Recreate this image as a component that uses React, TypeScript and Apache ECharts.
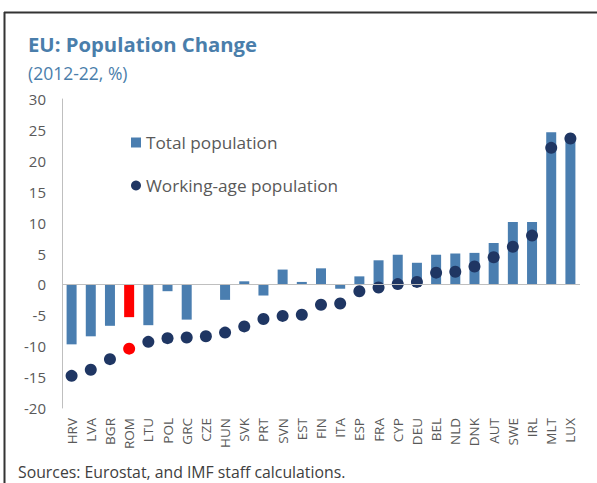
import React, { useEffect, useRef } from "react";
import * as echarts from "echarts";

const categories = ["HRV","LVA","BGR","ROM","LTU","POL","GRC","CZE","HUN","SVK","PRT","SVN","EST","FIN","ITA","ESP","FRA","CYP","DEU","BEL","NLD","DNK","AUT","SWE","IRL","MLT","LUX"];
const totalPopulation = [-9.7,-8.4,-6.7,-5.3,-6.6,-1.1,-5.7,-0.05,-2.5,0.5,-1.8,2.4,0.4,2.6,-0.7,1.3,3.9,4.8,3.5,4.8,5.0,5.1,6.7,10.1,10.1,24.6,23.2];
const workingAgePopulation = [-14.8,-13.8,-12.1,-10.4,-9.3,-8.7,-8.6,-8.4,-7.8,-6.8,-5.6,-5.1,-4.9,-3.3,-3.1,-1.1,-0.5,0.05,0.4,1.9,2.05,2.9,4.4,6.1,7.9,22.1,23.6];
const highlighted = "ROM";
const yTicks = { min: -20, max: 30, interval: 5 };

const FONT = "'Open Sans', 'Noto Sans', sans-serif";
const BAR = "#4a7eb0";
const DOT = "#1f3663";
const RED = "#ff0000";

export default function App() {
  const ref = useRef<HTMLDivElement>(null);
  useEffect(() => {
    if (!ref.current) return;
    const chart = echarts.init(ref.current, undefined, { renderer: "svg" });
    chart.setOption({
      animation: false,
      backgroundColor: "#ffffff",
      textStyle: { fontFamily: FONT },
      title: [
        {
          text: "EU: Population Change",
          left: 23,
          top: 29,
          textStyle: { fontFamily: FONT, fontSize: 20.3, fontWeight: "bold", color: "#4a7eab" },
        },
        {
          text: "(2012-22, %)",
          left: 23,
          top: 59,
          textStyle: { fontFamily: FONT, fontSize: 17.5, fontWeight: "normal", color: "#4a7eab" },
        },
        {
          text: "Sources: Eurostat, and IMF staff calculations.",
          left: 18,
          top: 462,
          padding: 0,
          textStyle: { fontFamily: FONT, fontSize: 15.8, lineHeight: 20, fontWeight: "normal", color: "#404040" },
        },
      ],
      legend: {
        orient: "vertical",
        left: 126,
        top: 127,
        itemGap: 22,
        itemWidth: 10,
        itemHeight: 10,
        textStyle: { fontFamily: FONT, fontSize: 17.2, color: "#595959", lineHeight: 21 },
        data: [
          { name: "Total population", icon: "rect" },
          { name: "Working-age population", icon: "circle" },
        ],
      },
      graphic: [
        { type: "line", shape: { x1: 4, y1: 12.5, x2: 597, y2: 12.5 }, style: { stroke: "#333333", lineWidth: 2 } },
        { type: "line", shape: { x1: 4.5, y1: 12, x2: 4.5, y2: 483 }, style: { stroke: "#333333", lineWidth: 2 } },
      ],
      grid: { left: 62, top: 99, width: 518, height: 309 },
      xAxis: {
        type: "category",
        data: categories,
        axisLine: { show: false, onZero: false },
        axisTick: { show: false },
        axisLabel: { rotate: 90, fontSize: 13.5, color: "#595959", fontFamily: FONT, margin: 10, interval: 0 },
      },
      yAxis: {
        type: "value",
        min: yTicks.min,
        max: yTicks.max,
        interval: yTicks.interval,
        axisLine: { show: true, lineStyle: { color: "#bfbfbf", width: 1 } },
        axisTick: { show: false },
        splitLine: { show: false },
        axisLabel: { fontSize: 15, color: "#595959", fontFamily: FONT, margin: 16 },
      },
      series: [
        {
          name: "Total population",
          type: "bar",
          barWidth: 10,
          itemStyle: { color: BAR },
          data: totalPopulation.map((v, i) =>
            categories[i] === highlighted ? { value: v, itemStyle: { color: RED } } : v
          ),
          markLine: {
            silent: true,
            symbol: "none",
            label: { show: false },
            lineStyle: { color: "#bfbfbf", width: 1, type: "solid" },
            data: [{ yAxis: 0 }],
          },
        },
        {
          name: "Working-age population",
          type: "scatter",
          symbol: "circle",
          symbolSize: 12,
          itemStyle: { color: DOT, opacity: 1 },
          data: workingAgePopulation.map((v, i) =>
            categories[i] === highlighted ? { value: v, itemStyle: { color: RED } } : v
          ),
          z: 3,
        },
      ],
    });
    return () => chart.dispose();
  }, []);
  return (
    <div
      ref={ref}
      style={{ position: "absolute", left: 0, top: 0, width: 597, height: 483 }}
    />
  );
}
